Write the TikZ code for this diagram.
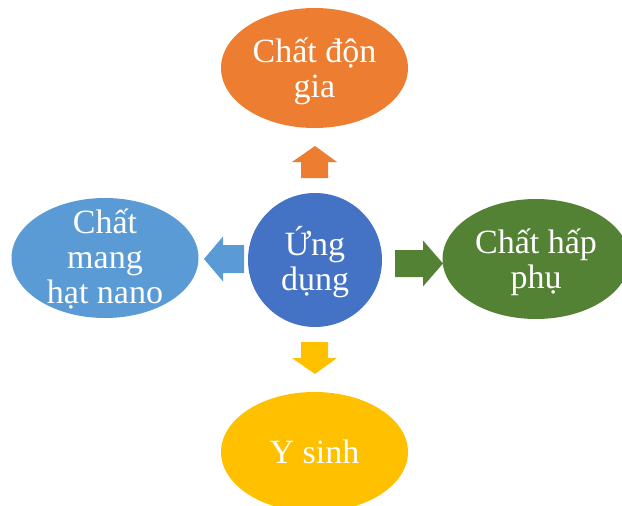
\documentclass[tikz,border=0pt]{standalone}
\usepackage{fontspec}
\setmainfont{Liberation Serif}
\usetikzlibrary{shapes.geometric}
\definecolor{corange}{HTML}{ED7D31}
\definecolor{cblue}{HTML}{5B9BD5}
\definecolor{cdblue}{HTML}{4472C4}
\definecolor{cgreen}{HTML}{548235}
\definecolor{cyellow}{HTML}{FFC000}
\begin{document}
\begin{tikzpicture}[x=1pt,y=-1pt,
  bubble/.style={ellipse, minimum width=187pt, minimum height=120pt, inner sep=0pt},
  txt/.style={text=white, align=center, inner sep=0pt, font=\fontsize{34}{35}\selectfont},
  ]
\useasboundingbox (0,0) rectangle (622,506);
\node[circle, minimum size=134pt, inner sep=0pt, fill=cdblue] (c) at (315,260) {};
\node[txt] (ct) at ([yshift=-2pt]c) {Ứng\\dụng};
\node[bubble, fill=corange] (t) at (314.5,68) {};
\node[txt] (tt) at ([yshift=-3pt]t) {Chất độn\\gia};
\node[bubble, fill=cblue] (l) at (105,258) {};
\node[txt] (lt) at ([yshift=-1pt]l) {Chất\\mang\\hạt nano};
\node[bubble, fill=cgreen] (r) at (536,259) {};
\node[txt] (rt) at ([yshift=-3pt]r) {Chất hấp\\phụ};
\node[bubble, fill=cyellow] (b) at (314.5,452) {};
\node[txt] (bt) at (b) {Y sinh};
% arrows
\fill[corange] (315,146) -- (337,162) -- (328,162) -- (328,178) -- (301,178) -- (301,162) -- (292,162) -- cycle;
\fill[cyellow] (315,374) -- (337,358) -- (328,358) -- (328,342) -- (301,342) -- (301,358) -- (292,358) -- cycle;
\fill[cblue] (204,259) -- (223,236.5) -- (223,245) -- (244,245) -- (244,273) -- (223,273) -- (223,281.5) -- cycle;
\fill[cgreen] (443,263.5) -- (423,240.5) -- (423,250) -- (395,250) -- (395,277) -- (423,277) -- (423,286.5) -- cycle;
\end{tikzpicture}
\end{document}
